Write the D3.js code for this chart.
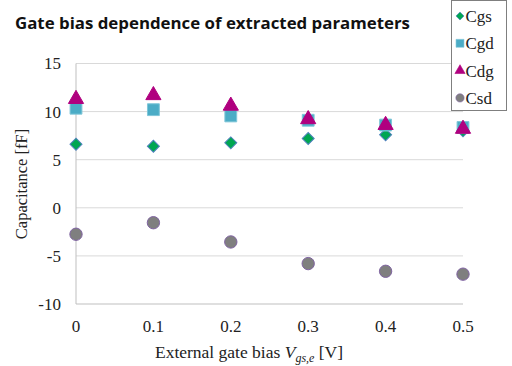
<!DOCTYPE html>
<html><head><meta charset="utf-8">
<script src="https://cdn.jsdelivr.net/npm/d3@7"></script>
<style>body{margin:0;background:#fff}svg{display:block}</style>
</head><body>
<svg id="c" width="512" height="366"></svg>
<script>
const xValues = [0, 0.1, 0.2, 0.3, 0.4, 0.5];
const cgs = [6.6, 6.4, 6.75, 7.2, 7.6, 8.0];
const cgd = [10.35, 10.2, 9.55, 9.1, 8.6, 8.35];
const cdg = [11.3, 11.7, 10.6, 9.2, 8.6, 8.2];
const csd = [-2.75, -1.55, -3.55, -5.8, -6.6, -6.9];
const xTicks = [0, 0.1, 0.2, 0.3, 0.4, 0.5];
const yTicks = [-10, -5, 0, 5, 10, 15];
const seriesNames = ["Cgs", "Cgd", "Cdg", "Csd"];

const svg = d3.select("#c");
const x = d3.scaleLinear().domain([0, 0.5]).range([76, 463]);
const y = d3.scaleLinear().domain([-10, 15]).range([304, 63.5]);

svg.append("g").selectAll("line").data(yTicks.filter(d => d > -10)).join("line")
  .attr("x1", x(0)).attr("x2", x(0.5)).attr("y1", d => y(d)).attr("y2", d => y(d))
  .attr("stroke", "#d9d9d9").attr("stroke-width", 1);
svg.append("line").attr("x1", x(0)).attr("x2", x(0)).attr("y1", y(15)).attr("y2", y(-10)).attr("stroke", "#bfbfbf");
svg.append("line").attr("x1", x(0)).attr("x2", x(0.5)).attr("y1", y(-10)).attr("y2", y(-10)).attr("stroke", "#bfbfbf");

const serif = "'Liberation Serif', 'Times New Roman', serif";
svg.append("g").selectAll("text").data(yTicks).join("text")
  .attr("x", 61).attr("y", d => y(d)).attr("dy", "0.35em").attr("text-anchor", "end")
  .attr("font-family", serif).attr("font-size", 17).attr("fill", "#222")
  .text(d => d);
svg.append("g").selectAll("text").data(xTicks).join("text")
  .attr("x", d => x(d)).attr("y", 332).attr("text-anchor", "middle")
  .attr("font-family", serif).attr("font-size", 17).attr("fill", "#222")
  .text(d => d);

svg.append("text").attr("transform", "translate(27,184) rotate(-90)").attr("text-anchor", "middle")
  .attr("font-family", serif).attr("font-size", 16.5).attr("fill", "#222").text("Capacitance [fF]");
const xt = svg.append("text").attr("x", 249).attr("y", 358).attr("text-anchor", "middle")
  .attr("font-family", serif).attr("font-size", 17.5).attr("fill", "#222");
xt.append("tspan").text("External gate bias ");
xt.append("tspan").attr("font-style", "italic").text("V");
xt.append("tspan").attr("font-style", "italic").attr("font-size", 12).attr("dy", 4).text("gs,e");
xt.append("tspan").attr("dy", -4).text(" [V]");

svg.append("text").attr("x", 15).attr("y", 29).attr("font-family", "'Open Sans', sans-serif")
  .attr("font-weight", "bold").attr("font-size", 15.2).attr("fill", "#111")
  .attr("textLength", 395).attr("lengthAdjust", "spacingAndGlyphs")
  .text("Gate bias dependence of extracted parameters");

const styles = {
  Cgs: {type: d3.symbolSquare, rot: 45, size: 72, fill: "#00a651", stroke: "#4f81bd"},
  Cgd: {type: d3.symbolSquare, rot: 0, size: 140, fill: "#4bacc6", stroke: "#7fc6d8"},
  Cdg: {type: d3.symbolTriangle, rot: 0, size: 100, fill: "#b0007f", stroke: "#b0007f"},
  Csd: {type: d3.symbolCircle, rot: 0, size: 120, fill: "#7f7f7f", stroke: "#8064a2"}
};
const data = {Cgs: cgs, Cgd: cgd, Cdg: cdg, Csd: csd};
const order = ["Csd", "Cgs", "Cgd", "Cdg"];
order.forEach(name => {
  const st = styles[name];
  svg.append("g").selectAll("path").data(data[name]).join("path")
    .attr("transform", (d, i) => `translate(${x(xValues[i])},${y(d)}) rotate(${st.rot})`)
    .attr("d", d3.symbol().type(st.type).size(st.size))
    .attr("fill", st.fill).attr("stroke", st.stroke).attr("stroke-width", 1);
});

const lg = svg.append("g");
lg.append("rect").attr("x", 451.5).attr("y", 0.5).attr("width", 55).attr("height", 110)
  .attr("fill", "#fff").attr("stroke", "#7f7f7f").attr("stroke-width", 1);
seriesNames.forEach((name, i) => {
  const st = styles[name];
  const cy = 16 + i * 27.3;
  lg.append("path").attr("transform", `translate(460,${cy}) rotate(${st.rot})`)
    .attr("d", d3.symbol().type(st.type).size(st.size * 0.45))
    .attr("fill", st.fill).attr("stroke", st.stroke).attr("stroke-width", 0.6);
  lg.append("text").attr("x", 465.5).attr("y", cy).attr("dy", "0.35em")
    .attr("font-family", serif).attr("font-size", 17).attr("fill", "#222").text(name);
});
</script>
</body></html>
